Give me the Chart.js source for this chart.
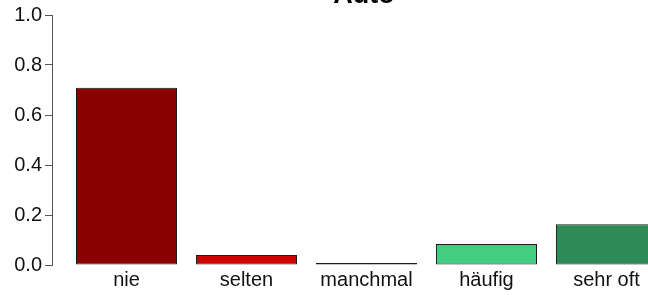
<!DOCTYPE html>
<html>
<head>
<meta charset="utf-8">
<script src="https://cdn.jsdelivr.net/npm/chart.js@4/dist/chart.umd.min.js"></script>
<style>
  html, body { margin: 0; padding: 0; background: #fff; overflow: hidden; }
  #wrap { width: 648px; height: 295px; overflow: hidden; position: relative; }
  canvas { position: absolute; left: 0; top: 0; }
</style>
</head>
<body>
<div id="wrap"><canvas id="chart" width="678" height="295"></canvas></div>
<script>
const title = "Auto";
const categories = ["nie", "selten", "manchmal", "häufig", "sehr oft"];
const shares = [0.709, 0.04, 0, 0.084, 0.163];
const yTicks = [0, 0.2, 0.4, 0.6, 0.8, 1.0];

const barColors = ["#8B0000", "#CD0000", "#CD0000", "#43CD80", "#2E8B57"];
const font = "'Liberation Sans', Arial, sans-serif";

// main title, R style, partly off the top of the picture
const titlePlugin = {
  id: "rtitle",
  afterDraw(chart) {
    const { ctx, chartArea } = chart;
    ctx.save();
    ctx.font = "bold 27px " + font;
    ctx.fillStyle = "#000";
    ctx.textAlign = "center";
    ctx.textBaseline = "alphabetic";
    ctx.fillText(title, (chartArea.left + chartArea.right) / 2 - 1, 3);
    ctx.restore();
  }
};

new Chart(document.getElementById("chart"), {
  type: "bar",
  data: {
    datasets: [{
      data: shares.map((v, i) => ({ x: i, y: v })),
      backgroundColor: barColors,
      borderColor: "#1a1a1a",
      borderWidth: 1,
      borderSkipped: false,
      minBarLength: 2,
      barPercentage: 0.842,
      categoryPercentage: 1
    }]
  },
  options: {
    responsive: false,
    animation: false,
    layout: { padding: { top: 13, bottom: 0, left: 0, right: 0 } },
    plugins: { legend: { display: false }, tooltip: { enabled: false } },
    scales: {
      x: {
        type: "linear",
        offset: false,
        min: -0.6208,
        max: 4.596,
        grid: { display: false, drawTicks: false },
        border: { display: false },
        afterBuildTicks: s => { s.ticks = categories.map((_, i) => ({ value: i })); },
        ticks: {
          callback: v => categories[v],
          font: { family: font, size: 20 },
          color: "#111",
          padding: 3,
          maxRotation: 0,
          autoSkip: false
        }
      },
      y: {
        min: 0,
        max: 1,
        afterFit: s => { s.width = 52; },
        afterBuildTicks: s => { s.ticks = yTicks.map(v => ({ value: v })); },
        grid: { drawOnChartArea: false, drawTicks: true, tickLength: 7, tickColor: "#555" },
        border: { display: true, color: "#555", width: 1 },
        ticks: {
          callback: v => v.toFixed(1),
          font: { family: font, size: 20 },
          color: "#111",
          padding: 3
        }
      }
    }
  },
  plugins: [titlePlugin]
});
</script>
</body>
</html>
